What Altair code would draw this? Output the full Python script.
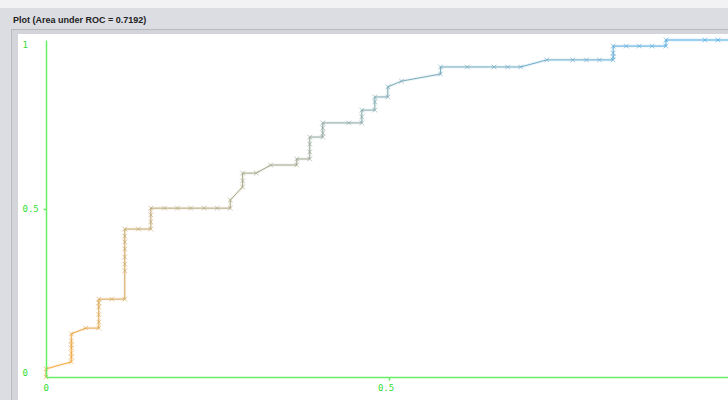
import altair as alt
import pandas as pd

# ROC curve points (false positive rate, true positive rate)
fpr = [0.0, 0.0, 0.037, 0.037, 0.037, 0.037, 0.037, 0.037, 0.037, 0.058, 0.077, 0.077,
       0.077, 0.077, 0.077, 0.077, 0.096, 0.115, 0.115, 0.115, 0.115, 0.115, 0.115, 0.115,
       0.115, 0.135, 0.153, 0.153, 0.153, 0.153, 0.173, 0.192, 0.211, 0.231, 0.250, 0.269,
       0.269, 0.287, 0.287, 0.287, 0.307, 0.328, 0.366, 0.366, 0.385, 0.385, 0.385, 0.385,
       0.404, 0.404, 0.404, 0.404, 0.442, 0.461, 0.461, 0.461, 0.480, 0.480, 0.480, 0.499,
       0.499, 0.519, 0.576, 0.576, 0.615, 0.654, 0.674, 0.693, 0.731, 0.769, 0.789, 0.808,
       0.828, 0.828, 0.828, 0.828, 0.847, 0.866, 0.885, 0.905, 0.905, 0.962, 0.981, 1.0]
tpr = [0.0, 0.024, 0.045, 0.059, 0.071, 0.086, 0.095, 0.107, 0.128, 0.145, 0.145, 0.163,
       0.185, 0.208, 0.220, 0.231, 0.231, 0.231, 0.315, 0.335, 0.356, 0.380, 0.401, 0.418,
       0.439, 0.439, 0.439, 0.460, 0.481, 0.501, 0.501, 0.501, 0.501, 0.501, 0.501, 0.501,
       0.525, 0.564, 0.582, 0.605, 0.605, 0.629, 0.629, 0.647, 0.647, 0.668, 0.691, 0.712,
       0.712, 0.724, 0.739, 0.754, 0.754, 0.754, 0.772, 0.792, 0.792, 0.816, 0.831, 0.831,
       0.861, 0.878, 0.899, 0.920, 0.920, 0.920, 0.920, 0.920, 0.941, 0.941, 0.941, 0.941,
       0.941, 0.950, 0.961, 0.982, 0.982, 0.982, 0.982, 0.982, 1.0, 1.0, 1.0, 1.0]

x_ticks = [0, 0.5]
y_ticks = [0, 0.5, 1]
title_text = "Plot (Area under ROC = 0.7192)"

n = len(fpr)
pts = pd.DataFrame({"x": fpr, "y": tpr, "t": [i / (n - 1) for i in range(n)]})
segs = pd.DataFrame({
    "x": fpr[:-1], "y": tpr[:-1], "x2": fpr[1:], "y2": tpr[1:],
    "t": [i / (n - 2) for i in range(n - 1)],
})

W, H = 682, 337
PL, PT = 46, 40

GREEN = "#66ee66"
LABEL_GREEN = "#33dd33"

color_scale = alt.Scale(domain=[0, 1], range=["#f8a22c", "#42a6e8"], interpolate="rgb")
xs = alt.Scale(domain=[0, 1], range=[0, 685])
ys = alt.Scale(domain=[0, 1])

one = alt.Data(values=[{"a": 1}])

def box(x0, y0, x1, y1, col):
    return alt.Chart(one).mark_rect(color=col).encode(
        x=alt.value(x0 - PL), x2=alt.value(x1 - PL),
        y=alt.value(y0 - PT), y2=alt.value(y1 - PT))

bg_top = box(0, 0, 728, 8, "#f2f2f4")
bg_border = box(11, 29, 728, 400, "#b9babf")
bg_border2 = box(12, 30, 728, 400, "#d4d5da")
bg_white = box(18, 34, 728, 400, "#ffffff")

common = dict(title=None, domainColor=GREEN, domainWidth=1.5,
              tickColor=GREEN, tickSize=3, tickWidth=1.5,
              tickOpacity=alt.expr("datum.value == 0.5 ? 1 : 0"),
              labelColor=LABEL_GREEN, labelFont="DejaVu Sans Mono", labelFontSize=9,
              grid=False, zindex=1,
              labelExpr="datum.value == 0 ? '0' : datum.value == 1 ? '1' : '0.5'")

xaxis = alt.Axis(values=x_ticks, labelOffset=-3, labelPadding=3, **common)
yaxis = alt.Axis(values=y_ticks, labelAlign="left", labelPadding=21,
                 labelBaseline=alt.expr("datum.value == 1 ? 'top' : datum.value == 0 ? 'bottom' : 'middle'"),
                 **common)

halo = alt.Chart(segs).mark_rule(strokeWidth=3, opacity=0.15).encode(
    x=alt.X("x:Q", scale=xs, axis=xaxis),
    y=alt.Y("y:Q", scale=ys, axis=yaxis),
    x2="x2:Q", y2="y2:Q",
    color=alt.Color("t:Q", scale=color_scale, legend=None),
)

lines = alt.Chart(segs).mark_rule(strokeWidth=1, opacity=0.9).encode(
    x=alt.X("x:Q", scale=xs),
    y=alt.Y("y:Q", scale=ys),
    x2="x2:Q", y2="y2:Q",
    color=alt.Color("t:Q", scale=color_scale, legend=None),
)

marks = alt.Chart(pts).mark_point(
    shape="M-1,-1L1,1M-1,1L1,-1", size=22, filled=False, strokeWidth=1, opacity=0.6
).encode(
    x=alt.X("x:Q", scale=xs),
    y=alt.Y("y:Q", scale=ys),
    color=alt.Color("t:Q", scale=color_scale, legend=None),
)

title = alt.Chart(one).mark_text(
    text=title_text, align="left", baseline="middle", font="Liberation Sans",
    fontSize=9, fontWeight="bold", color="#222222"
).encode(x=alt.value(13 - PL), y=alt.value(20 - PT))

chart = alt.layer(bg_top, bg_border, bg_border2, bg_white, halo, lines, marks, title).properties(
    width=W, height=H,
    autosize=alt.AutoSizeParams(type="none"),
    padding={"left": PL, "top": PT, "right": 0, "bottom": 23},
    background="#dcdde2",
).configure_view(stroke=None)

chart.save("out.html", embed_options={"renderer": "svg", "actions": False})
